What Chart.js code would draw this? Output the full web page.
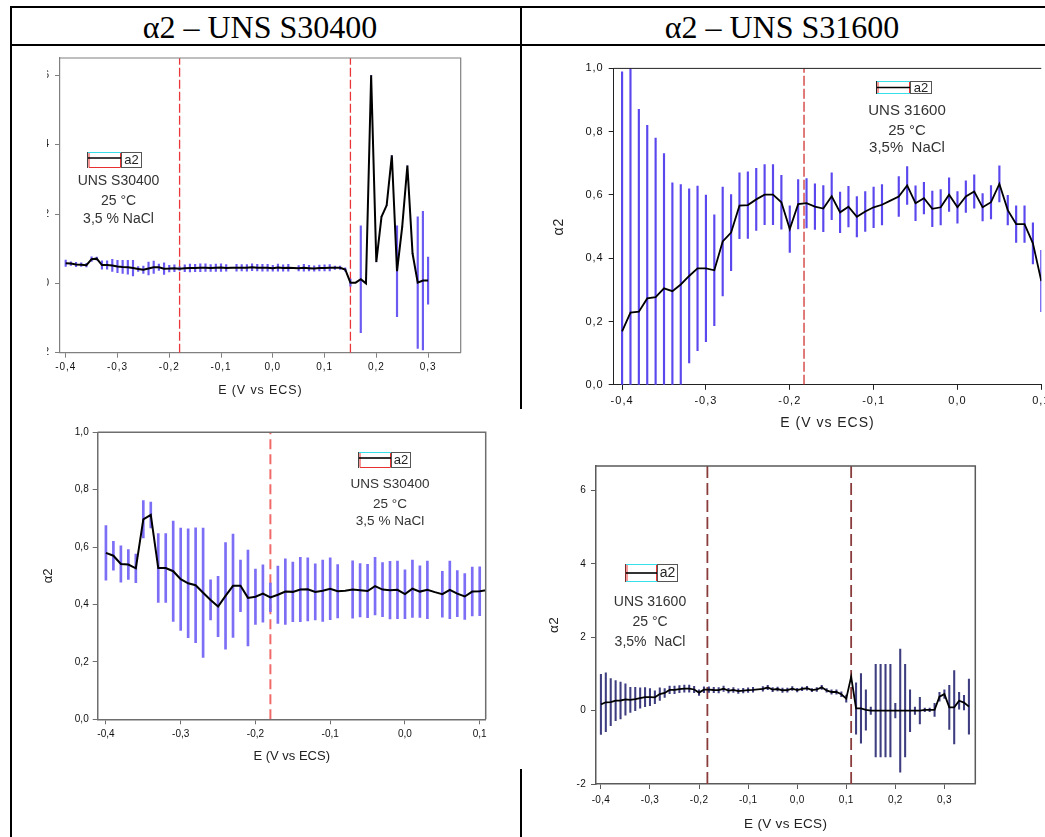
<!DOCTYPE html>
<html>
<head>
<meta charset="utf-8">
<script src="https://cdn.jsdelivr.net/npm/chart.js@4.4.1/dist/chart.umd.min.js"></script>
<style>
  html, body { margin: 0; padding: 0; background: #fff; overflow: hidden; }
  body { width: 1045px; height: 837px; position: relative; }
  .rule { position: absolute; background: #000; }
  .head { position: absolute; top: 8px; width: 400px; text-align: center;
          font-family: "Liberation Serif", "Times New Roman", serif; font-size: 32px; line-height: 38px; color: #000; }
  .cell { position: absolute; overflow: hidden; background: #fff; }
  .cell canvas { position: absolute; }
</style>
</head>
<body>
<div class="cell" id="c1" style="left:47px; top:47px; width:433px; height:360px"><canvas id="g1"></canvas></div>
<div class="cell" id="c2" style="left:523px; top:47px; width:522px; height:390px"><canvas id="g2"></canvas></div>
<div class="cell" id="c3" style="left:20px; top:415px; width:490px; height:355px; filter:blur(0.4px)"><canvas id="g3"></canvas></div>
<div class="cell" id="c4" style="left:545px; top:455px; width:440px; height:382px"><canvas id="g4"></canvas></div>

<!-- table rules -->
<div class="rule" style="left:10px; top:6px; width:1040px; height:2px"></div>
<div class="rule" style="left:10px; top:44px; width:1040px; height:2px"></div>
<div class="rule" style="left:10px; top:6px; width:2px; height:831px"></div>
<div class="rule" style="left:520px; top:6px; width:2px; height:403px"></div>
<div class="rule" style="left:520px; top:769px; width:2px; height:68px"></div>
<div class="head" style="left:60px">α2 – UNS S30400</div>
<div class="head" style="left:582px">α2 – UNS S31600</div>

<script>
// potential sweep, V vs ECS
const potential = [
  -0.40, -0.39, -0.38, -0.37, -0.36, -0.35, -0.34, -0.33, -0.32, -0.31,
  -0.30, -0.29, -0.28, -0.27, -0.26, -0.25, -0.24, -0.23, -0.22, -0.21,
  -0.20, -0.19, -0.18, -0.17, -0.16, -0.15, -0.14, -0.13, -0.12, -0.11,
  -0.10, -0.09, -0.08, -0.07, -0.06, -0.05, -0.04, -0.03, -0.02, -0.01,
   0.00,  0.01,  0.02,  0.03,  0.04,  0.05,  0.06,  0.07,  0.08,  0.09,
   0.10,  0.11,  0.12,  0.13,  0.14,  0.15,  0.16,  0.17,  0.18,  0.19,
   0.20,  0.21,  0.22,  0.23,  0.24,  0.25,  0.26,  0.27,  0.28,  0.29,
   0.30,  0.31,  0.32,  0.33,  0.34,  0.35
];

// UNS S30400 (-0.40 .. 0.30)
const a2S30400 = [
  0.580, 0.570, 0.541, 0.539, 0.526, 0.697, 0.712, 0.527, 0.527, 0.516,
  0.488, 0.474, 0.467, 0.441, 0.416, 0.393, 0.430, 0.465, 0.465, 0.423,
  0.427, 0.438, 0.425, 0.434, 0.445, 0.444, 0.452, 0.453, 0.444, 0.448,
  0.455, 0.446, 0.448, 0.452, 0.450, 0.447, 0.464, 0.452, 0.450, 0.451,
  0.436, 0.455, 0.445, 0.451, 0.443, 0.436, 0.451, 0.438, 0.428, 0.445,
  0.446, 0.450, 0.450, 0.450, 0.400, 0.020, 0.020, 0.120, 0.000, 6.000,
  0.620, 1.920, 2.250, 3.690, 0.350, 1.630, 3.400, 0.860, 0.020, 0.080,
  0.080
];
const errS30400 = [
  0.095, 0.050, 0.063, 0.052, 0.050, 0.065, 0.045, 0.120, 0.120, 0.175,
  0.178, 0.190, 0.200, 0.225, 0.070, 0.105, 0.186, 0.180, 0.090, 0.167,
  0.096, 0.100, 0.050, 0.100, 0.114, 0.104, 0.112, 0.110, 0.098, 0.107,
  0.108, 0.093, 0.000, 0.100, 0.093, 0.093, 0.100, 0.094, 0.100, 0.100,
  0.085, 0.100, 0.090, 0.100, 0.000, 0.080, 0.100, 0.080, 0.080, 0.085,
  0.085, 0.090, 0.050, 0.050, 0.050, 0.100, 0.000, 1.540, 0.000, 0.000,
  0.000, 0.000, 0.000, 0.000, 1.310, 0.000, 0.000, 0.000, 1.900, 2.000,
  0.680
];

// UNS S31600 (-0.40 .. 0.35)
const a2S31600 = [
  0.169, 0.228, 0.231, 0.273, 0.277, 0.305, 0.296, 0.317, 0.344, 0.368,
  0.368, 0.362, 0.453, 0.481, 0.566, 0.568, 0.586, 0.601, 0.601, 0.577,
  0.492, 0.571, 0.574, 0.563, 0.557, 0.596, 0.545, 0.563, 0.531, 0.548,
  0.561, 0.569, 0.582, 0.595, 0.630, 0.574, 0.590, 0.556, 0.561, 0.601,
  0.561, 0.595, 0.611, 0.561, 0.577, 0.635, 0.552, 0.508, 0.508, 0.447,
  0.328, 0.920, 0.060, 0.060, 0.020, 0.000, 0.000, 0.000, 0.000, 0.000,
  0.000, 0.000, 0.000, 0.000, 0.000, 0.000, 0.020, 0.020, 0.020, 0.380,
  0.450, 0.090, 0.090, 0.270, 0.220, 0.110
];
const errS31600 = [
  0.820, 0.800, 0.640, 0.547, 0.503, 0.426, 0.342, 0.316, 0.275, 0.260,
  0.232, 0.175, 0.172, 0.120, 0.104, 0.105, 0.098, 0.095, 0.095, 0.085,
  0.074, 0.078, 0.078, 0.072, 0.073, 0.074, 0.064, 0.064, 0.064, 0.063,
  0.064, 0.064, 0.000, 0.063, 0.060, 0.055, 0.050, 0.056, 0.056, 0.053,
  0.050, 0.050, 0.053, 0.043, 0.053, 0.057, 0.047, 0.058, 0.058, 0.065,
  0.097, 0.000, 0.700, 0.950, 0.550, 0.100, 1.260, 1.260, 1.260, 1.260,
  0.200, 1.680, 1.260, 0.570, 0.100, 0.360, 0.050, 0.050, 0.180, 0.120,
  0.120, 0.600, 1.000, 0.230, 0.200, 0.750
];

// region boundaries (dashed markers)
const marksS30400 = [-0.18, 0.15];
const marksS31600 = [-0.183, 0.11];

const xTicks = [-0.4, -0.3, -0.2, -0.1, 0.0, 0.1, 0.2, 0.3];
const yTicksWide = [-2, 0, 2, 4, 6];
const yTicksUnit = [0, 0.2, 0.4, 0.6, 0.8, 1.0];

const notesS30400 = ['UNS S30400', '25 °C', '3,5 % NaCl'];
const notesS31600 = ['UNS 31600', '25 °C', '3,5%  NaCl'];

const sans = '"Liberation Sans", Arial, sans-serif';
const comma = v => v.toFixed(1).replace('.', ',');
const plain = v => String(v);

const pairs = vals => vals.map((v, i) => ({ x: potential[i], y: v }));
const spans = (vals, errs) => vals.map((v, i) => ({ x: potential[i], y: [v - errs[i], v + errs[i]] }));

// closes the box on the top / right of the plot area; spaced-out axis text
const framePlugin = {
  id: 'frame',
  beforeDraw(chart, args, o) {
    chart.ctx.letterSpacing = o.spacing + 'px';
  },
  beforeDatasetsDraw(chart) {
    chart.ctx.letterSpacing = '0px';
  },
  afterDraw(chart, args, o) {
    const { ctx, chartArea: a } = chart;
    ctx.save();
    ctx.strokeStyle = o.color;
    ctx.lineWidth = o.width;
    ctx.beginPath();
    ctx.moveTo(a.left, a.top);
    ctx.lineTo(a.right, a.top);
    if (o.right) ctx.lineTo(a.right, a.bottom);
    ctx.stroke();
    ctx.restore();
  }
};

// legend key + sample description
const notePlugin = {
  id: 'note',
  afterDraw(chart, args, o) {
    const ctx = chart.ctx;
    const k = o.key;
    const x = k.x - o.ox, y = k.y - o.oy;
    ctx.save();
    ctx.lineWidth = 1;
    // line sample box
    ctx.strokeStyle = k.edge;
    ctx.beginPath(); ctx.moveTo(x + 0.5, y); ctx.lineTo(x + 0.5, y + k.h); ctx.stroke();
    ctx.strokeStyle = '#35e0ea';
    ctx.beginPath(); ctx.moveTo(x + 1, y + 0.5); ctx.lineTo(x + k.w, y + 0.5); ctx.stroke();
    if (k.style === 'b') {
      ctx.beginPath(); ctx.moveTo(x + 1, y + k.h - 0.5); ctx.lineTo(x + k.w, y + k.h - 0.5); ctx.stroke();
      ctx.strokeStyle = '#e83030';
      ctx.beginPath();
      ctx.moveTo(x + 2, y + 1); ctx.lineTo(x + 2, y + k.h - 1);
      ctx.moveTo(x + k.w - 0.5, y + 1); ctx.lineTo(x + k.w - 0.5, y + k.h - 1);
      ctx.stroke();
    } else {
      ctx.strokeStyle = '#e83030';
      ctx.beginPath();
      ctx.moveTo(x + 2, y + 1); ctx.lineTo(x + 2, y + k.h - 0.5);
      ctx.lineTo(x + k.w - 0.5, y + k.h - 0.5); ctx.lineTo(x + k.w - 0.5, y + 1);
      ctx.stroke();
    }
    ctx.strokeStyle = '#000';
    ctx.lineWidth = 1.6;
    ctx.beginPath(); ctx.moveTo(x + 1, y + k.line); ctx.lineTo(x + k.w, y + k.line); ctx.stroke();
    // label box
    ctx.lineWidth = 1;
    ctx.strokeStyle = '#555';
    ctx.strokeRect(x + k.w + 0.5, y + 0.5, k.tw, k.h - 1);
    ctx.fillStyle = '#222';
    ctx.font = k.font + 'px ' + sans;
    ctx.textAlign = 'center';
    ctx.textBaseline = 'middle';
    ctx.fillText('a2', x + k.w + k.tw / 2 + 0.5, y + k.h / 2 + 0.5);
    // description lines
    ctx.fillStyle = '#333';
    ctx.font = o.font + 'px ' + sans;
    o.lines.forEach((t, i) => ctx.fillText(t, o.cx - o.ox, o.rows[i] - o.oy));
    ctx.restore();
  }
};

function buildChart(id, p) {
  const canvas = document.getElementById(id);
  canvas.width = p.w;
  canvas.height = p.h;
  canvas.style.left = (p.x - p.clip[0]) + 'px';
  canvas.style.top = (p.y - p.clip[1]) + 'px';
  const a = p.area;
  const datasets = [
    { type: 'line', data: pairs(p.vals), borderColor: '#000', borderWidth: p.lineWidth,
      pointRadius: 0, tension: 0, order: 0 },
    { type: 'bar', data: spans(p.vals, p.errs), backgroundColor: p.barColor, borderWidth: 0,
      barThickness: p.barWidth, order: 1 },
    ...p.marks.map(m => ({
      type: 'line', data: [{ x: m, y: p.yMin }, { x: m, y: p.yMax }],
      borderColor: p.dashColor, borderWidth: p.dashWidth, borderDash: p.dash,
      pointRadius: 0, order: 2
    }))
  ];
  return new Chart(canvas, {
    type: 'line',
    data: { datasets },
    plugins: [framePlugin, notePlugin],
    options: {
      responsive: false,
      animation: false,
      devicePixelRatio: 1,
      layout: { padding: { left: 0, top: a.t - p.y, right: p.x + p.w - a.r, bottom: 0 } },
      plugins: {
        legend: { display: false },
        tooltip: { enabled: false },
        frame: { color: p.frame, width: p.frameWidth, right: p.frameRight, spacing: p.tickSpacing },
        note: { ox: p.x, oy: p.y, key: p.key, lines: p.notes, cx: p.noteX, rows: p.noteRows, font: p.noteFont }
      },
      scales: {
        x: {
          type: 'linear', min: p.xMin, max: p.xMax, offset: false,
          afterBuildTicks: s => { s.ticks = xTicks.filter(v => v >= p.xMin - 1e-9 && v <= p.xMax + 1e-9).map(v => ({ value: v })); },
          afterFit: s => { s.height = p.y + p.h - a.b; },
          ticks: { callback: comma, autoSkip: false, maxRotation: 0, padding: p.xTickPad,
                   font: { family: sans, size: p.tickFont }, color: '#111' },
          grid: { drawOnChartArea: false, tickLength: 5, color: p.frame, offset: false },
          border: { color: p.frame, width: p.frameWidth },
          title: { display: true, text: 'E (V vs ECS)', color: '#222',
                   font: { family: sans, size: p.titleFont }, padding: { top: 0, bottom: p.xTitlePad } }
        },
        y: {
          type: 'linear', min: p.yMin, max: p.yMax,
          afterBuildTicks: s => { s.ticks = p.yTicks.map(v => ({ value: v })); },
          afterFit: s => { s.width = a.l - p.x; },
          ticks: { callback: p.yFormat, padding: p.yTickPad, font: { family: sans, size: p.tickFont }, color: '#111' },
          grid: { drawOnChartArea: false, tickLength: 5, color: p.frame },
          border: { color: p.frame, width: p.frameWidth },
          title: { display: p.yTitle, text: 'α2', color: '#222',
                   font: { family: sans, size: p.titleFont }, padding: { top: p.yTitlePad, bottom: 0 } }
        }
      }
    }
  });
}

// S30400 full range
buildChart('g1', {
  clip: [47, 47], x: 0, y: 47, w: 480, h: 360,
  area: { l: 60, t: 57.3, r: 460.7, b: 352.7 },
  xMin: -0.411, xMax: 0.363, yMin: -2, yMax: 6.5, yTicks: yTicksWide, yFormat: plain,
  vals: a2S30400, errs: errS30400, marks: marksS30400,
  lineWidth: 2, barColor: '#6a5af2', barWidth: 1.5,
  dashColor: '#e8363a', dashWidth: 1.3, dash: [9, 3],
  frame: '#808080', frameWidth: 1.2, frameRight: true,
  tickFont: 10, tickSpacing: 0.9,
  xTickPad: 4, yTickPad: 5, xTitlePad: 9, yTitle: false, yTitlePad: 0, titleFont: 12.5,
  key: { x: 87, y: 152, w: 34, h: 16, tw: 20, line: 6, style: 'a', edge: '#444', font: 13 },
  notes: notesS30400, noteX: 118.5, noteRows: [181, 201, 219], noteFont: 14
});

// S31600 passive region
buildChart('g2', {
  clip: [523, 47], x: 500, y: 47, w: 570, h: 390,
  area: { l: 613.7, t: 68.4, r: 1041.3, b: 384.8 },
  xMin: -0.41, xMax: 0.1, yMin: 0, yMax: 1, yTicks: yTicksUnit, yFormat: comma,
  vals: a2S31600, errs: errS31600, marks: marksS31600,
  lineWidth: 1.8, barColor: '#5a48ee', barWidth: 1.5,
  dashColor: '#cc2222', dashWidth: 1.2, dash: [10, 3],
  frame: '#222', frameWidth: 1, frameRight: false,
  tickFont: 11, tickSpacing: 1,
  xTickPad: 5, yTickPad: 5, xTitlePad: 5, yTitle: true, yTitlePad: 51, titleFont: 14,
  key: { x: 876, y: 81, w: 34, h: 13, tw: 21, line: 6.5, style: 'b', edge: '#222', font: 13 },
  notes: notesS31600, noteX: 907, noteRows: [111, 131, 148], noteFont: 15
});

// S30400 passive region
buildChart('g3', {
  clip: [20, 415], x: 20, y: 415, w: 490, h: 355,
  area: { l: 97.7, t: 432.3, r: 485.7, b: 719.3 },
  xMin: -0.411, xMax: 0.108, yMin: 0, yMax: 1, yTicks: yTicksUnit, yFormat: comma,
  vals: a2S30400, errs: errS30400, marks: marksS30400,
  lineWidth: 2, barColor: '#7c6ef5', barWidth: 2,
  dashColor: '#f06a6a', dashWidth: 2, dash: [10, 5],
  frame: '#6e6e6e', frameWidth: 1.5, frameRight: true,
  tickFont: 10, tickSpacing: 0,
  xTickPad: 4, yTickPad: 4, xTitlePad: 6, yTitle: true, yTitlePad: 21, titleFont: 13,
  key: { x: 358, y: 452, w: 33, h: 16, tw: 19, line: 6, style: 'a', edge: '#444', font: 13 },
  notes: notesS30400, noteX: 390, noteRows: [484, 504, 521], noteFont: 13.5
});

// S31600 full range
buildChart('g4', {
  clip: [545, 455], x: 545, y: 455, w: 440, h: 382,
  area: { l: 596, t: 464, r: 975.3, b: 784 },
  xMin: -0.41, xMax: 0.363, yMin: -2, yMax: 6.67, yTicks: yTicksWide, yFormat: plain,
  vals: a2S31600, errs: errS31600, marks: marksS31600,
  lineWidth: 1.8, barColor: '#3d3d80', barWidth: 1.4,
  dashColor: '#8a3c3c', dashWidth: 1.8, dash: [12, 5],
  frame: '#5a5a5a', frameWidth: 1.5, frameRight: true,
  tickFont: 10, tickSpacing: 0.3,
  xTickPad: 5, yTickPad: 5, xTitlePad: 5, yTitle: true, yTitlePad: 1, titleFont: 13.5,
  key: { x: 625, y: 564, w: 32, h: 18, tw: 20, line: 9, style: 'b', edge: '#7a2a2a', font: 14 },
  notes: notesS31600, noteX: 650, noteRows: [602, 622, 642], noteFont: 14
});
</script>
</body>
</html>
